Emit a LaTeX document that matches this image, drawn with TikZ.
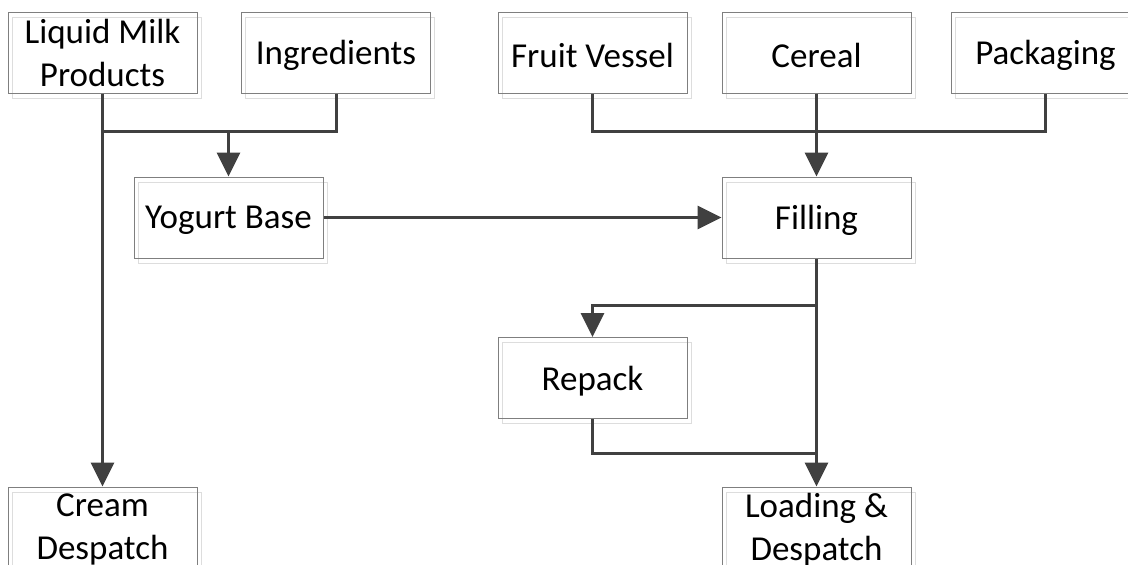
\documentclass[tikz,border=0pt]{standalone}
\usepackage{fontspec}
\setmainfont{Carlito}
\usetikzlibrary{arrows.meta}
\definecolor{conncol}{HTML}{404040}
\definecolor{boxcol}{HTML}{7F7F7F}
\definecolor{shadowcol}{HTML}{DDDDDD}
\tikzset{
  boxbase/.style={minimum width=189pt, minimum height=81pt, inner sep=0pt, line width=1pt},
  procbox/.style={boxbase, draw=boxcol},
  shadowbox/.style={boxbase, draw=shadowcol},
  boxtext/.style={align=center, font=\fontsize{35}{43}\selectfont, inner sep=0pt, text=black},
  conn/.style={draw=conncol, line width=3pt},
  arrowconn/.style={conn, -{Triangle[length=24pt,width=23pt]}},
}
% #1 name, #2 x, #3 y, #4 text, #5 text shift
\newcommand\mybox[5]{%
  \node[shadowbox] (#1sh) at (#2+4,#3+5) {};
  \node[procbox] (#1) at (#2,#3) {};
  \node[boxtext] (#1t) at (#2,#3+#5) {#4};
}
\begin{document}
\begin{tikzpicture}[x=1pt,y=-1pt]
\clip (0,0) rectangle (1128,565);
\fill[white] (0,0) rectangle (1128,565);
\mybox{liq}{102.5}{52.5}{Liquid Milk\\Products}{0}
\mybox{ingr}{336}{52.5}{Ingredients}{3}
\mybox{fruit}{592.5}{52.5}{Fruit Vessel}{3}
\mybox{cer}{816.5}{52.5}{Cereal}{3}
\mybox{pack}{1045.5}{52.5}{Packaging}{3}
\mybox{yog}{228.5}{217.5}{Yogurt Base}{3}
\mybox{fill}{816.5}{217.5}{Filling}{3}
\mybox{rep}{592.5}{378}{Repack}{3}
\mybox{cream}{102.5}{527.5}{Cream\\Despatch}{2}
\mybox{load}{816.5}{527.5}{Loading \&\\Despatch}{2}
\coordinate (j1) at (228.5,131);
\coordinate (j2) at (816.5,131);
\coordinate (j3) at (816.5,305);
\coordinate (j4) at (816.5,453);
\draw[conn] (liq.south) -- (liq.south |- j1) -| (ingr.south);
\draw[arrowconn] (yog.north |- j1) -- (yog.north);
\draw[arrowconn] (liq.south) -- (cream.north);
\draw[arrowconn] (yog.east) -- (fill.west);
\draw[conn] (fruit.south) -- (fruit.south |- j2) -| (pack.south);
\draw[arrowconn] (cer.south) -- (fill.north);
\draw[arrowconn] (fill.south) -- (load.north);
\draw[arrowconn] (j3) -| (rep.north);
\draw[conn] (rep.south) |- (j4);
\end{tikzpicture}
\end{document}
